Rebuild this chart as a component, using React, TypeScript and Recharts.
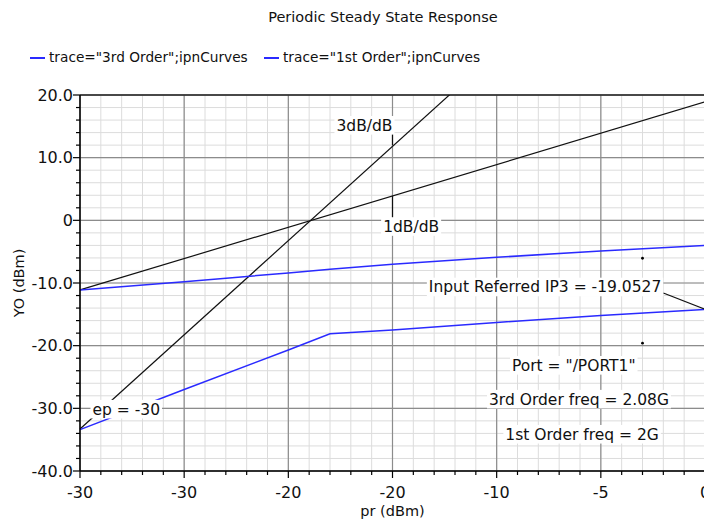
import {
  LineChart,
  Line,
  XAxis,
  YAxis,
  CartesianGrid,
  ReferenceLine,
  ReferenceDot,
} from 'recharts';

const FONT = '"DejaVu Sans", Verdana, sans-serif';
const BLUE = '#2a2aff';

// input power sweep (dBm) and simulated output powers (dBm)
const prValues = [-30, -25, -20, -18, -15, -10, -5, 0];
const thirdOrderValues = [-33.4, -27.0, -20.7, -18.1, -17.5, -16.3, -15.2, -14.2];
const firstOrderValues = [-11.1, -9.8, -8.4, -7.8, -7.0, -5.9, -4.9, -4.0];

// extrapolated 1dB/dB and 3dB/dB lines
const fitPr = [-30, 0];
const fit1dBValues = [-11.1, 18.9];
const fit3dBValues = [-33.3, 56.9];

// marker points
const markerPr = [-3, -3];
const markerValues = [-6.05, -19.6];

const xMajorTicks = [-30, -25, -20, -15, -10, -5, 0];
const xTickLabels = ['-30', '-30', '-20', '-20', '-10', '-5', '0'];
const yMajorTicks = [-40, -30, -20, -10, 0, 10, 20];
const yTickLabels = ['-40.0', '-30.0', '-20.0', '-10.0', '0', '10.0', '20.0'];

const xMinorTicks = Array.from({ length: 31 }, (_, i) => -30 + i);
const yMinorTicks = Array.from({ length: 31 }, (_, i) => -40 + 2 * i);

const legendItems = [
  { name: 'trace="3rd Order";ipnCurves', color: BLUE, left: 30 },
  { name: 'trace="1st Order";ipnCurves', color: BLUE, left: 264 },
];

// text annotations (anchored in data coordinates)
const notes = [
  { text: '3dB/dB', x: -15, y: 15.2, anchor: 'end' },
  { text: '1dB/dB', x: -15.45, y: -0.95, anchor: 'start' },
  { text: 'ep = -30', x: -29.4, y: -30.1, anchor: 'start' },
  { text: 'Input Referred IP3 = -19.0527', x: -2.1, y: -10.6, anchor: 'end' },
  { text: 'Port = "/PORT1"', x: -6.3, y: -23.1, anchor: 'middle' },
  { text: '3rd Order freq = 2.08G', x: -6.05, y: -28.5, anchor: 'middle' },
  { text: '1st Order freq = 2G', x: -5.9, y: -34.1, anchor: 'middle' },
];

const leaders = [
  [{ x: -15, y: 12.0 }, { x: -15, y: 14.4 }],
  [{ x: -15, y: 3.9 }, { x: -15, y: 0.3 }],
  [{ x: -2.0, y: -11.6 }, { x: 0, y: -14.2 }],
];

const curveData = prValues.map((pr, i) => ({
  pr,
  third: thirdOrderValues[i],
  first: firstOrderValues[i],
}));

const fitData = fitPr.map((pr, i) => ({
  pr,
  one: fit1dBValues[i],
  three: fit3dBValues[i],
}));

const NOTE_SIZE = 15.5;
let measureCtx: CanvasRenderingContext2D | null = null;

function textWidth(s: string, size: number) {
  if (!measureCtx) measureCtx = document.createElement('canvas').getContext('2d');
  if (!measureCtx) return s.length * size * 0.6;
  measureCtx.font = `${size}px "DejaVu Sans"`;
  return measureCtx.measureText(s).width;
}

function NoteBox({ cx, cy, text, anchor }: any) {
  const w = textWidth(text, NOTE_SIZE);
  const left = anchor === 'end' ? cx - w : anchor === 'middle' ? cx - w / 2 : cx;
  const baseline = cy + 0.365 * NOTE_SIZE;
  return (
    <g>
      <rect
        x={left - 2}
        y={baseline - 0.95 * NOTE_SIZE}
        width={w + 4}
        height={1.2 * NOTE_SIZE}
        fill="#fff"
      />
      <text x={left} y={baseline} fontSize={NOTE_SIZE} fontFamily={FONT} fill="#111">
        {text}
      </text>
    </g>
  );
}

function XTick(props: any) {
  const { x, y, payload } = props;
  const idx = xMajorTicks.indexOf(payload.value);
  const major = idx >= 0;
  return (
    <g>
      <line x1={x} x2={x} y1={y} y2={y + (major ? 7 : 4)} stroke="#000" strokeWidth={1.2} />
      {major && (
        <text x={x} y={y + 27} textAnchor="middle" fontSize={16} fontFamily={FONT} fill="#111">
          {xTickLabels[idx]}
        </text>
      )}
    </g>
  );
}

function YTick(props: any) {
  const { x, y, payload } = props;
  const idx = yMajorTicks.indexOf(payload.value);
  const major = idx >= 0;
  return (
    <g>
      <line x1={x - (major ? 7 : 4)} x2={x} y1={y} y2={y} stroke="#000" strokeWidth={1.2} />
      {major && (
        <text x={x - 7} y={y + 5.8} textAnchor="end" fontSize={16} fontFamily={FONT} fill="#111">
          {yTickLabels[idx]}
        </text>
      )}
    </g>
  );
}

function XTitle(props: any) {
  const vb = props.viewBox;
  return (
    <text x={vb.x + vb.width / 2} y={vb.y + 45} textAnchor="middle" fontSize={14.5} fontFamily={FONT} fill="#111">
      pr (dBm)
    </text>
  );
}

function YTitle(props: any) {
  const vb = props.viewBox;
  const cx = vb.x + 24;
  const cy = vb.y + vb.height / 2;
  return (
    <text
      x={cx}
      y={cy}
      transform={`rotate(-90, ${cx}, ${cy})`}
      textAnchor="middle"
      fontSize={14.5}
      fontFamily={FONT}
      fill="#111"
    >
      YO (dBm)
    </text>
  );
}

export default function App() {
  return (
    <div
      style={{
        position: 'absolute',
        left: 0,
        top: 0,
        width: 704,
        height: 520,
        overflow: 'hidden',
        background: '#fff',
        fontFamily: FONT,
      }}
    >
      <LineChart width={720} height={520} margin={{ top: 95, right: 15, bottom: 0, left: 0 }}>
        <CartesianGrid stroke="#dcdcdc" horizontalValues={yMinorTicks} verticalValues={xMinorTicks} />
        <CartesianGrid stroke="#8c8c8c" strokeWidth={1.2} horizontalValues={yMajorTicks} verticalValues={xMajorTicks} />
        <XAxis
          type="number"
          dataKey="pr"
          domain={[-30, 0]}
          ticks={xMinorTicks}
          interval={0}
          tick={XTick}
          tickLine={false}
          tickSize={0}
          tickMargin={0}
          height={49}
          axisLine={{ stroke: '#000', strokeWidth: 1.5 }}
          label={XTitle}
        />
        <YAxis
          type="number"
          domain={[-40, 20]}
          allowDataOverflow
          ticks={yMinorTicks}
          interval={0}
          tick={YTick}
          tickLine={false}
          tickSize={0}
          tickMargin={0}
          width={80}
          axisLine={{ stroke: '#000', strokeWidth: 1.5 }}
          label={YTitle}
        />
        <ReferenceLine y={20} stroke="#222" strokeWidth={1.5} />
        <Line
          data={fitData}
          dataKey="one"
          type="linear"
          stroke="#111"
          strokeWidth={1.2}
          dot={false}
          isAnimationActive={false}
        />
        <Line
          data={fitData}
          dataKey="three"
          type="linear"
          stroke="#111"
          strokeWidth={1.2}
          dot={false}
          isAnimationActive={false}
        />
        <Line
          data={curveData}
          dataKey="third"
          name='trace="3rd Order";ipnCurves'
          type="linear"
          stroke={BLUE}
          strokeWidth={1.5}
          dot={false}
          isAnimationActive={false}
        />
        <Line
          data={curveData}
          dataKey="first"
          name='trace="1st Order";ipnCurves'
          type="linear"
          stroke={BLUE}
          strokeWidth={1.5}
          dot={false}
          isAnimationActive={false}
        />
        {leaders.map((seg, i) => (
          <ReferenceLine key={`l${i}`} segment={seg} stroke="#111" strokeWidth={1.2} />
        ))}
        {markerPr.map((x, i) => (
          <ReferenceDot key={`m${i}`} x={x} y={markerValues[i]} r={1.4} fill="#000" stroke="none" />
        ))}
        {notes.map((n, i) => (
          <ReferenceDot
            key={`n${i}`}
            x={n.x}
            y={n.y}
            r={0}
            shape={(p: any) => <NoteBox cx={p.cx} cy={p.cy} text={n.text} anchor={n.anchor} />}
          />
        ))}
      </LineChart>
      <div
        style={{
          position: 'absolute',
          left: 0,
          top: 8,
          width: 766,
          textAlign: 'center',
          fontSize: 14.5,
          lineHeight: '18px',
          color: '#111',
        }}
      >
        Periodic Steady State Response
      </div>
      {legendItems.map((item) => (
        <div
          key={item.name}
          style={{
            position: 'absolute',
            left: item.left,
            top: 48,
            height: 18,
            display: 'flex',
            alignItems: 'center',
            fontSize: 13.7,
            color: '#111',
            whiteSpace: 'nowrap',
          }}
        >
          <span style={{ display: 'inline-block', width: 15, height: 2, background: item.color, marginRight: 4, marginTop: 2 }} />
          {item.name}
        </div>
      ))}
    </div>
  );
}
